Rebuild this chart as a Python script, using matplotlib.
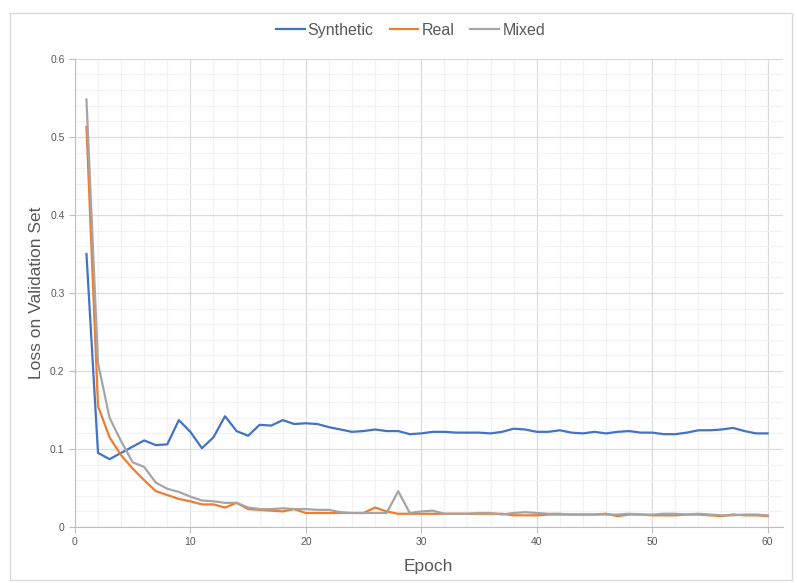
import matplotlib.pyplot as plt
from matplotlib.ticker import MultipleLocator
from matplotlib.patches import Rectangle

plt.rcParams['font.family'] = ['Liberation Sans Narrow', 'Liberation Sans', 'DejaVu Sans']

# data
epochs = list(range(1, 61))
synthetic = [0.350, 0.095, 0.087, 0.095, 0.103, 0.111, 0.105, 0.106, 0.137, 0.122,
             0.101, 0.115, 0.142, 0.123, 0.117, 0.131, 0.130, 0.137, 0.132, 0.133,
             0.132, 0.128, 0.125, 0.122, 0.123, 0.125, 0.123, 0.123, 0.119, 0.120,
             0.122, 0.122, 0.121, 0.121, 0.121, 0.120, 0.122, 0.126, 0.125, 0.122,
             0.122, 0.124, 0.121, 0.120, 0.122, 0.120, 0.122, 0.123, 0.121, 0.121,
             0.119, 0.119, 0.121, 0.124, 0.124, 0.125, 0.127, 0.123, 0.120, 0.120]
real = [0.513, 0.155, 0.115, 0.092, 0.075, 0.060, 0.046, 0.041, 0.036, 0.033,
        0.029, 0.029, 0.025, 0.031, 0.023, 0.022, 0.021, 0.020, 0.023, 0.018,
        0.018, 0.018, 0.018, 0.018, 0.018, 0.025, 0.020, 0.017, 0.017, 0.017,
        0.017, 0.017, 0.017, 0.017, 0.017, 0.017, 0.017, 0.015, 0.015, 0.015,
        0.016, 0.016, 0.016, 0.016, 0.016, 0.017, 0.014, 0.016, 0.016, 0.015,
        0.015, 0.015, 0.016, 0.016, 0.015, 0.014, 0.016, 0.015, 0.015, 0.014]
mixed = [0.548, 0.210, 0.140, 0.110, 0.083, 0.077, 0.057, 0.049, 0.045, 0.039,
         0.034, 0.033, 0.031, 0.031, 0.025, 0.023, 0.023, 0.024, 0.023, 0.023,
         0.022, 0.022, 0.019, 0.018, 0.018, 0.018, 0.018, 0.046, 0.018, 0.020,
         0.021, 0.017, 0.017, 0.017, 0.018, 0.018, 0.016, 0.018, 0.019, 0.018,
         0.017, 0.017, 0.016, 0.016, 0.016, 0.016, 0.016, 0.017, 0.016, 0.016,
         0.017, 0.017, 0.016, 0.017, 0.016, 0.015, 0.015, 0.016, 0.016, 0.015]

fig = plt.figure(figsize=(7.97, 5.83), dpi=100)
ax = fig.add_axes([0.094, 0.096, 0.888, 0.803])

ax.plot(epochs, synthetic, color='#4472C4', lw=1.6, label='Synthetic')
ax.plot(epochs, real, color='#ED7D31', lw=1.6, label='Real')
ax.plot(epochs, mixed, color='#A5A5A5', lw=1.6, label='Mixed')

ax.set_xlim(0, 61.3)
ax.set_ylim(0, 0.6)
ax.xaxis.set_major_locator(MultipleLocator(10))
ax.xaxis.set_minor_locator(MultipleLocator(2))
ax.yaxis.set_minor_locator(MultipleLocator(0.02))
ax.set_yticks([0, 0.1, 0.2, 0.3, 0.4, 0.5, 0.6])
ax.set_yticklabels(['0', '0.1', '0.2', '0.3', '0.4', '0.5', '0.6'])

ax.grid(which='major', color='#dcdcdc', lw=0.9)
ax.grid(which='minor', color='#f2f2f2', lw=0.9)
ax.set_axisbelow(True)
for s in ['top', 'right']:
    ax.spines[s].set_visible(False)
for s in ['left', 'bottom']:
    ax.spines[s].set_color('#bfbfbf')
ax.tick_params(which='both', colors='#bfbfbf', labelcolor='#595959', labelsize=7.5, length=4)
ax.tick_params(which='minor', length=0)

ax.set_xlabel('Epoch', fontsize=12.5, color='#595959', labelpad=8)
ax.set_ylabel('Loss on Validation Set', fontsize=12.5, color='#595959', labelpad=4)

leg = fig.legend(loc='center', bbox_to_anchor=(0.515, 0.948), ncol=3, frameon=False,
                 fontsize=11.5, handlelength=1.8, handletextpad=0.2, columnspacing=1.0)
for t in leg.get_texts():
    t.set_color('#595959')

fig.patches.append(Rectangle((0.012, 0.006), 0.982, 0.972, transform=fig.transFigure,
                             fill=False, edgecolor='#d9d9d9', lw=1))

fig.savefig('out.png', dpi=100)
